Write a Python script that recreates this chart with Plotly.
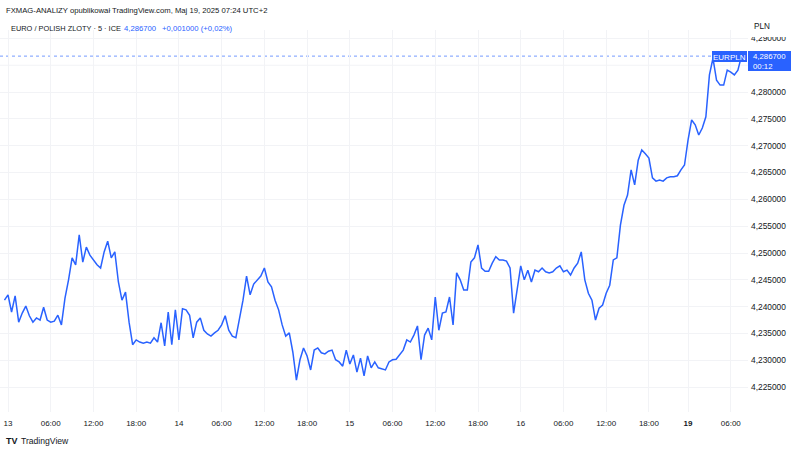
import pandas as pd
import plotly.graph_objects as go

# ---- data: EURPLN, 30-minute samples (weekend removed) ----
week_prices = [
    4.2412, 4.2422, 4.2390, 4.2420, 4.2371, 4.2388, 4.2401, 4.2383, 4.2371, 4.2379,
    4.2375, 4.2399, 4.2375, 4.2371, 4.2373, 4.2384, 4.2366, 4.2416, 4.2450, 4.2491,
    4.2478, 4.2534, 4.2483, 4.2511, 4.2496, 4.2487, 4.2478, 4.2472, 4.2502, 4.2522,
    4.2491, 4.2502, 4.2446, 4.2412, 4.2427, 4.2371, 4.2329, 4.2338, 4.2334, 4.2332,
    4.2334, 4.2332, 4.2342, 4.2334, 4.2370, 4.2327, 4.2390, 4.2329, 4.2394, 4.2338,
    4.2396, 4.2394, 4.2384, 4.2342, 4.2371, 4.2379, 4.2356, 4.2349, 4.2345, 4.2351,
    4.2356, 4.2366, 4.2383, 4.2356, 4.2345, 4.2342, 4.2375, 4.2412, 4.2457, 4.2422,
    4.2442, 4.2450, 4.2457, 4.2472, 4.2446, 4.2437, 4.2412, 4.2394, 4.2366, 4.2345,
    4.2351, 4.2315, 4.2263, 4.2301, 4.2323, 4.2308, 4.2282, 4.2319, 4.2323, 4.2314,
    4.2312, 4.2317, 4.2319, 4.2301, 4.2297, 4.2289, 4.2319, 4.2293, 4.2310, 4.2278,
    4.2304, 4.2271, 4.2308, 4.2286, 4.2297, 4.2286, 4.2284, 4.2282, 4.2297, 4.2301,
    4.2302, 4.2310, 4.2319, 4.2338, 4.2334, 4.2347, 4.2364, 4.2301, 4.2347, 4.2360,
    4.2338, 4.2418, 4.2356, 4.2388, 4.2390, 4.2418, 4.2366, 4.2463, 4.2450, 4.2431,
    4.2431, 4.2483, 4.2491, 4.2515, 4.2472, 4.2466, 4.2466, 4.2481, 4.2493, 4.2487,
    4.2487, 4.2485, 4.2472, 4.2388, 4.2431, 4.2476, 4.2450, 4.2468, 4.2446, 4.2468,
    4.2465, 4.2472, 4.2465, 4.2463, 4.2465, 4.2472, 4.2476, 4.2465, 4.2468, 4.2459,
    4.2472, 4.2481, 4.2502, 4.2450, 4.2425, 4.2412, 4.2375, 4.2397, 4.2403, 4.2425,
    4.2440, 4.2487, 4.2491, 4.2552, 4.2589, 4.2608, 4.2655, 4.2627, 4.2673, 4.2692,
    4.2685, 4.2677, 4.2640, 4.2634, 4.2636, 4.2634, 4.2640, 4.2642, 4.2642, 4.2644,
    4.2655, 4.2664,
]
monday_prices = [
    4.2711, 4.2748, 4.2739, 4.2720, 4.2733, 4.2754, 4.2832, 4.2863, 4.2822, 4.2813,
    4.2813, 4.2841, 4.2837, 4.2832, 4.2841, 4.2867,
]
last_price = 4.2867

week_times = pd.date_range("2025-05-12 23:30", "2025-05-16 23:00", freq="30min")
monday_times = pd.date_range("2025-05-19 00:00", periods=len(monday_prices), freq="30min")
times = list(week_times) + list(monday_times)
prices = week_prices + monday_prices

x_tick_vals = [
    "2025-05-13 00:00", "2025-05-13 06:00", "2025-05-13 12:00", "2025-05-13 18:00",
    "2025-05-14 00:00", "2025-05-14 06:00", "2025-05-14 12:00", "2025-05-14 18:00",
    "2025-05-15 00:00", "2025-05-15 06:00", "2025-05-15 12:00", "2025-05-15 18:00",
    "2025-05-16 00:00", "2025-05-16 06:00", "2025-05-16 12:00", "2025-05-16 18:00",
    "2025-05-19 00:00", "2025-05-19 06:00",
]
x_tick_text = [
    "13", "06:00", "12:00", "18:00", "14", "06:00", "12:00", "18:00",
    "15", "06:00", "12:00", "18:00", "16", "06:00", "12:00", "18:00",
    "<b>19</b>", "06:00",
]
# 4,285000 sits under the last-price label in the reference, so only its gridline is drawn
y_tick_vals = [4.225, 4.230, 4.235, 4.240, 4.245, 4.250, 4.255, 4.260,
               4.265, 4.270, 4.275, 4.280, 4.290]
hidden_grid_val = 4.285

# ---- layout geometry ----
W, H = 800, 453
L, R, T, B = 0, 52, 30, 41
PW, PH = W - L - R, H - T - B
def px(x):
    return (x - L) / PW
def py(y):
    return (H - B - y) / PH

BLUE = "#2962FF"
TXT = "#131722"
GRID = "#f2f3f6"
FONT = "Liberation Sans"

fig = go.Figure()
fig.add_trace(go.Scatter(
    x=times, y=prices, mode="lines",
    line=dict(color=BLUE, width=1.5),
    hoverinfo="skip", showlegend=False,
))

fig.update_layout(
    width=W, height=H,
    margin=dict(l=L, r=R, t=T, b=B),
    paper_bgcolor="white", plot_bgcolor="white",
    separators=", ",
    font=dict(family=FONT, color=TXT, size=8),
    showlegend=False,
)
fig.update_xaxes(
    type="date",
    range=["2025-05-12 22:52:30", "2025-05-19 08:25"],
    rangebreaks=[dict(values=["2025-05-16 23:30:00"], dvalue=48.5 * 3600 * 1000)],
    tickmode="array", tickvals=x_tick_vals, ticktext=x_tick_text,
    tickfont=dict(size=8, color=TXT),
    showgrid=True, gridcolor=GRID, gridwidth=1,
    zeroline=False, showline=False, ticks="",
    ticklabeloverflow="allow", ticklabelstandoff=5,
)
fig.update_yaxes(
    side="right",
    range=[4.22036, 4.29157],
    tickmode="array", tickvals=y_tick_vals, tickformat=".6f",
    tickfont=dict(size=8.4, color=TXT),
    showgrid=True, gridcolor=GRID, gridwidth=1,
    zeroline=False, showline=False, ticks="", ticklabelstandoff=2,
)

shapes = [
    # gridline for the covered 4,285000 level
    dict(type="line", xref="paper", yref="y", x0=0, x1=1,
         y0=hidden_grid_val, y1=hidden_grid_val,
         line=dict(color=GRID, width=1), layer="below"),
    # last price dotted line
    dict(type="line", xref="paper", yref="y", x0=0, x1=px(712),
         y0=last_price, y1=last_price,
         line=dict(color="rgba(41,98,255,0.65)", width=1, dash="dot"), layer="below"),
    # clip cover at top of price scale
    dict(type="rect", xref="paper", yref="paper", x0=px(748), x1=px(800),
         y0=py(37), y1=py(0), fillcolor="white", line=dict(width=0), layer="above"),
    # symbol label box
    dict(type="rect", xref="paper", yref="paper", x0=px(712), x1=px(747),
         y0=py(62), y1=py(51), fillcolor=BLUE, line=dict(width=0), layer="above"),
    # price label box
    dict(type="rect", xref="paper", yref="paper", x0=px(748), x1=px(791),
         y0=py(71), y1=py(51), fillcolor=BLUE, line=dict(width=0), layer="above"),
]
fig.update_layout(shapes=shapes)

def ann(text, x, y, size=8, color=TXT, xanchor="left", align="left"):
    return dict(text=text, x=px(x), y=py(y), xref="paper", yref="paper",
                xanchor=xanchor, yanchor="middle", showarrow=False,
                align=align, borderpad=0,
                font=dict(family=FONT, size=size, color=color))

annotations = [
    ann("FXMAG-ANALIZY opublikował TradingView.com, Maj 19, 2025 07:24 UTC+2", 5, 11, size=7.7),
    ann("EURO / POLISH ZLOTY · 5 · ICE", 10, 28, size=7.4),
    ann("4,286700", 123, 28, size=7.7, color=BLUE),
    ann("+0,001000 (+0,02%)", 161, 28, size=7.7, color=BLUE),
    ann("PLN", 762, 27, size=8.2, xanchor="center", align="center"),
    ann("EURPLN", 729.5, 57, size=8, color="white", xanchor="center", align="center"),
    ann("4,286700<br>00:12", 752, 61, size=7.8, color="white"),
    ann("<b>TV</b>", 5, 441, size=9),
    ann("TradingView", 20, 441, size=8.6),
]
fig.update_layout(annotations=annotations)

fig.write_html("out.html")
